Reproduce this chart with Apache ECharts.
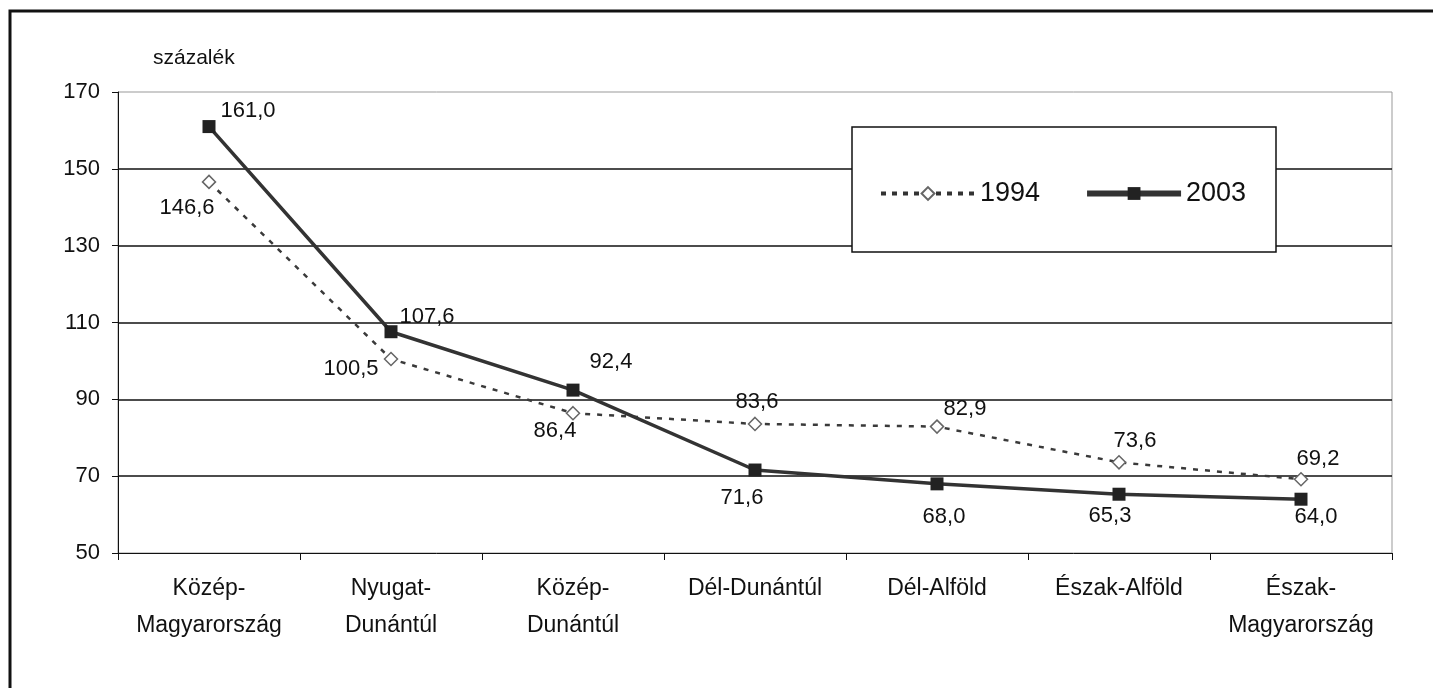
<!DOCTYPE html>
<html>
<head>
<meta charset="utf-8">
<script src="https://cdn.jsdelivr.net/npm/echarts@6/dist/echarts.min.js"></script>
<style>
html,body{margin:0;padding:0;background:#fff;}
#chart{width:1433px;height:688px;}
</style>
</head>
<body>
<div id="chart"></div>
<script>
const categories = ['Közép-\nMagyarország', 'Nyugat-\nDunántúl', 'Közép-\nDunántúl', 'Dél-Dunántúl', 'Dél-Alföld', 'Észak-Alföld', 'Észak-\nMagyarország'];
const values1994 = [146.6, 100.5, 86.4, 83.6, 82.9, 73.6, 69.2];
const values2003 = [161.0, 107.6, 92.4, 71.6, 68.0, 65.3, 64.0];
const yTicks = { min: 50, max: 170, interval: 20 };
const axisName = 'százalék';

// label placement (pixel offsets from each marker centre)
const labelOffsets1994 = [[-22, 26], [-40, 10], [-18, 18], [2, -22], [28, -18], [16, -21], [17, -20]];
const labelOffsets2003 = [[39, -16], [36, -15], [38, -28], [-13, 28], [7, 33], [-9, 22], [15, 18]];

const FONT = '"Liberation Sans", Arial, sans-serif';
const fmt = v => v.toFixed(1).replace('.', ',');

function buildData(vals, offs) {
  return vals.map((v, i) => ({
    value: v,
    label: { show: true, position: 'inside', offset: offs[i], formatter: fmt(v),
             fontSize: 22, fontFamily: FONT, color: '#111' }
  }));
}

const chart = echarts.init(document.getElementById('chart'));
chart.setOption({
  backgroundColor: '#fff',
  animation: false,
  textStyle: { fontFamily: FONT },
  title: {
    text: axisName, left: 148, top: 43,
    textStyle: { fontSize: 21, fontWeight: 'normal', fontFamily: FONT, color: '#111' }
  },
  grid: { left: 118, right: 41, top: 92, bottom: 135, show: true, borderColor: '#999', borderWidth: 1, containLabel: false },
  legend: {
    left: 874, top: 175, z: 20,
    itemWidth: 94, itemHeight: 16, itemGap: 44,
    textStyle: { fontSize: 27, fontFamily: FONT, color: '#111' },
    data: [
      { name: '1994', lineStyle: { width: 4, type: [5, 6], color: '#333' } },
      { name: '2003', lineStyle: { width: 6, color: '#333' } }
    ]
  },
  graphic: [
    { type: 'rect', shape: { x: 10, y: 11, width: 1500, height: 800 }, style: { fill: 'none', stroke: '#111', lineWidth: 3 }, silent: true, z: -1 },
    { type: 'rect', shape: { x: 852, y: 127, width: 424, height: 125 }, style: { fill: '#fff', stroke: '#111', lineWidth: 1.5 }, silent: true, z: 1 }
  ],
  xAxis: {
    type: 'category',
    data: categories,
    boundaryGap: true,
    axisLine: { lineStyle: { color: '#111', width: 1 } },
    axisTick: { show: true, length: 7, lineStyle: { color: '#111' }, interval: 0 },
    axisLabel: { interval: 0, fontSize: 23, lineHeight: 37, margin: 17, color: '#111', fontFamily: FONT },
    splitLine: { show: false }
  },
  yAxis: {
    type: 'value',
    min: yTicks.min, max: yTicks.max, interval: yTicks.interval,
    axisLine: { show: true, lineStyle: { color: '#111', width: 1 } },
    axisTick: { show: true, length: 6, inside: false, lineStyle: { color: '#111' } },
    axisLabel: { fontSize: 22, margin: 18, color: '#111', fontFamily: FONT },
    splitLine: { show: true, showMinLine: false, showMaxLine: false, lineStyle: { color: '#111', width: 1.6 } }
  },
  series: [
    {
      name: '1994', type: 'line', z: 3,
      data: buildData(values1994, labelOffsets1994),
      symbol: 'diamond', symbolSize: 13,
      lineStyle: { color: '#3a3a3a', width: 2.5, type: [5, 7] },
      itemStyle: { color: '#fff', borderColor: '#666', borderWidth: 1.5 }
    },
    {
      name: '2003', type: 'line', z: 4,
      data: buildData(values2003, labelOffsets2003),
      symbol: 'rect', symbolSize: 13,
      lineStyle: { color: '#333', width: 3.5 },
      itemStyle: { color: '#222' }
    }
  ]
});
</script>
</body>
</html>
